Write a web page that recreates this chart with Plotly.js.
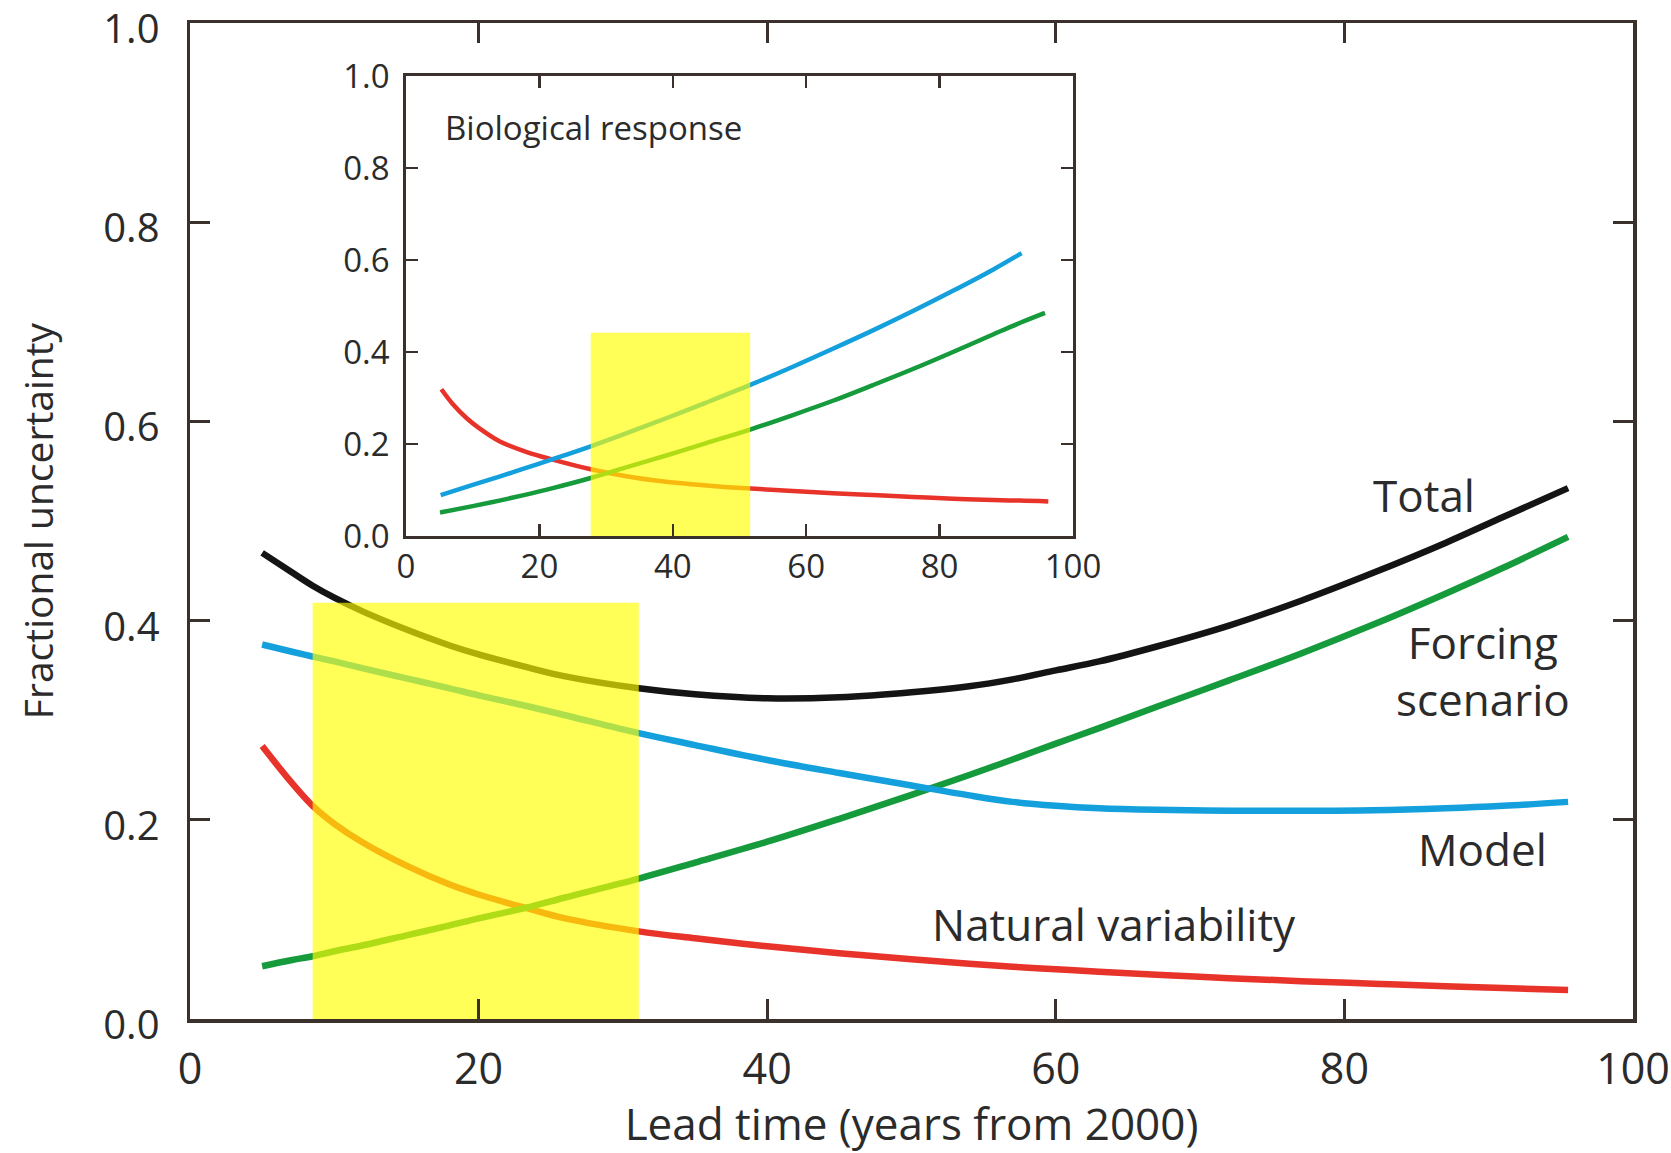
<!DOCTYPE html>
<html>
<head>
<meta charset="utf-8">
<script src="https://cdn.plot.ly/plotly-3.0.1.min.js"></script>
<style>
  html, body { margin: 0; padding: 0; background: #ffffff; }
  #chart { width: 1671px; height: 1153px; }
</style>
</head>
<body>
<div id="chart"></div>
<script>
// ---------- Main panel data (lead time in years from 2000) ----------
const leadTime = [5, 7, 8.5, 10, 12, 15, 18, 20, 23.4, 26, 31.1, 35, 40, 45, 50, 54, 57, 60, 63, 67, 72, 77, 82, 87, 91, 95.5];
const totalUnc = [0.468, 0.449, 0.435, 0.423, 0.409, 0.391, 0.375, 0.366, 0.353, 0.344, 0.332, 0.326, 0.322, 0.323, 0.328, 0.334, 0.341, 0.350, 0.359, 0.374, 0.395, 0.420, 0.448, 0.478, 0.504, 0.533];
const modelUnc = [0.376, 0.369, 0.364, 0.359, 0.352, 0.342, 0.332, 0.325, 0.314, 0.305, 0.287, 0.275, 0.260, 0.247, 0.2345, 0.2245, 0.218, 0.214, 0.2115, 0.210, 0.2092, 0.209, 0.2095, 0.2115, 0.214, 0.218];
const forcingUnc = [0.053, 0.059, 0.063, 0.068, 0.074, 0.084, 0.094, 0.101, 0.112, 0.122, 0.141, 0.157, 0.178, 0.201, 0.225, 0.245, 0.2605, 0.2765, 0.292, 0.3135, 0.340, 0.367, 0.396, 0.427, 0.453, 0.484];
const naturalUnc = [0.274, 0.238, 0.214, 0.196, 0.177, 0.154, 0.135, 0.125, 0.111, 0.101, 0.088, 0.081, 0.073, 0.066, 0.060, 0.0555, 0.0525, 0.050, 0.0475, 0.0445, 0.041, 0.038, 0.0355, 0.033, 0.031, 0.029];

// highlighted window, main panel
const mainHighlightX = [8.5, 31.1];
const mainHighlightY = [0, 0.418];

// ---------- Inset: Biological response ----------
const bioModelX = [5.2, 10, 14, 18, 22, 27.7, 33, 39, 45, 51.7, 58, 64, 70, 76, 82, 88, 92.3];
const bioModel  = [0.089, 0.111, 0.129, 0.148, 0.167, 0.195, 0.223, 0.256, 0.290, 0.329, 0.368, 0.407, 0.447, 0.489, 0.533, 0.579, 0.615];
const bioForcingX = [5.1, 10, 14, 18, 22, 27.7, 33, 39, 45, 51.7, 58, 64, 70, 76, 82, 88, 92, 95.8];
const bioForcing  = [0.051, 0.065, 0.077, 0.090, 0.104, 0.126, 0.149, 0.175, 0.202, 0.232, 0.263, 0.294, 0.328, 0.363, 0.400, 0.438, 0.463, 0.485];
const bioNaturalX = [5.3, 7, 9.1, 11, 14, 18, 22, 27.7, 33, 39, 45, 51.7, 58, 64, 70, 76, 82, 88, 92, 96.3];
const bioNatural  = [0.319, 0.287, 0.256, 0.234, 0.206, 0.183, 0.166, 0.145, 0.130, 0.118, 0.110, 0.103, 0.098, 0.093, 0.089, 0.085, 0.081, 0.078, 0.077, 0.075];

const insetHighlightX = [27.7, 51.6];
const insetHighlightY = [0, 0.442];

// ---------- Tick labels ----------
const xTicks = [0, 20, 40, 60, 80, 100];
const yTicks = [0, 0.2, 0.4, 0.6, 0.8, 1.0];

// ---------- Series labels ----------
const labelText = ['Total', 'Forcing<br>scenario', 'Model', 'Natural variability'];
const labelX = [85.5, 89.6, 89.6, 64.0];
const labelY = [0.526, 0.350, 0.171, 0.095];

// ---------- Styles ----------
const FONT = '"Open Sans", "Noto Sans", sans-serif';
const TXT = '#2b2b2b';
const AXC = '#3a302c';
const C_TOTAL = '#141414';
const C_MODEL = '#13a0dc';
const C_FORCE = '#159a3c';
const C_NAT = '#e8332a';
const C_HL = 'rgba(255,255,0,0.66)';

function line(x, y, color, w, xa, ya, name) {
  return { x: x, y: y, type: 'scatter', mode: 'lines', name: name,
           line: { color: color, width: w, shape: 'spline', smoothing: 1 },
           xaxis: xa, yaxis: ya, hoverinfo: 'skip' };
}
function rect(xr, yr, xa, ya) {
  return { x: [xr[0], xr[1], xr[1], xr[0], xr[0]], y: [yr[0], yr[0], yr[1], yr[1], yr[0]],
           type: 'scatter', mode: 'lines', fill: 'toself', fillcolor: C_HL,
           line: { width: 0, color: 'rgba(0,0,0,0)' }, xaxis: xa, yaxis: ya, hoverinfo: 'skip' };
}

const traces = [
  line(leadTime, naturalUnc, C_NAT, 6.5, 'x', 'y', 'Natural variability'),
  line(leadTime, forcingUnc, C_FORCE, 6.5, 'x', 'y', 'Forcing scenario'),
  line(leadTime, modelUnc, C_MODEL, 6.5, 'x', 'y', 'Model'),
  line(leadTime, totalUnc, C_TOTAL, 6.5, 'x', 'y', 'Total'),
  rect(mainHighlightX, mainHighlightY, 'x', 'y'),
  line(bioNaturalX, bioNatural, C_NAT, 4.5, 'x2', 'y2', 'Natural variability (bio)'),
  line(bioForcingX, bioForcing, C_FORCE, 4.5, 'x2', 'y2', 'Forcing scenario (bio)'),
  line(bioModelX, bioModel, C_MODEL, 4.5, 'x2', 'y2', 'Model (bio)'),
  rect(insetHighlightX, insetHighlightY, 'x2', 'y2')
];

const W = 1671, H = 1153;
function axisCommon(extra) {
  return Object.assign({
    showgrid: false, zeroline: false, showline: true, linecolor: AXC,
    mirror: 'ticks', ticks: 'inside', tickcolor: AXC, fixedrange: true,
    ticklabeloverflow: 'allow'
  }, extra);
}

const annotations = labelText.map((t, i) => ({
  text: t, x: labelX[i], y: labelY[i], xref: 'x', yref: 'y', showarrow: false,
  xanchor: 'center', yanchor: 'middle', align: 'center',
  font: { family: FONT, size: 44, color: TXT }
}));
annotations.push({
  text: 'Biological response', x: 5.5, y: 0.889, xref: 'x2', yref: 'y2', showarrow: false,
  xanchor: 'left', yanchor: 'middle', font: { family: FONT, size: 33, color: TXT }
});

const layout = {
  width: W, height: H,
  margin: { l: 0, r: 0, t: 0, b: 0 },
  paper_bgcolor: '#ffffff', plot_bgcolor: '#ffffff',
  showlegend: false,
  font: { family: FONT, color: TXT },
  xaxis: axisCommon({
    domain: [190 / W, 1633 / W], range: [0, 100], anchor: 'y',
    tickvals: xTicks, ticktext: xTicks.map(String),
    ticklen: 20, tickwidth: 3, linewidth: 3.5,
    tickfont: { family: FONT, size: 43, color: TXT }, ticklabelstandoff: 10,
    title: { text: 'Lead time (years from 2000)', font: { family: FONT, size: 44, color: TXT }, standoff: 17 }
  }),
  yaxis: axisCommon({
    domain: [(H - 1019) / H, (H - 23) / H], range: [0, 1], anchor: 'x',
    tickvals: yTicks, ticktext: yTicks.map(v => v.toFixed(1)),
    ticklen: 20, tickwidth: 3, linewidth: 3.5,
    tickfont: { family: FONT, size: 40, color: TXT }, ticklabelstandoff: 19, ticklabelshift: 6,
    title: { text: 'Fractional uncertainty', font: { family: FONT, size: 39, color: TXT }, standoff: 38 }
  }),
  xaxis2: axisCommon({
    domain: [406 / W, 1073 / W], range: [0, 100], anchor: 'y2',
    tickvals: xTicks, ticktext: xTicks.map(String),
    ticklen: 12, tickwidth: 2.5, linewidth: 2.8,
    tickfont: { family: FONT, size: 33, color: TXT }, ticklabelstandoff: 0
  }),
  yaxis2: axisCommon({
    domain: [(H - 536) / H, (H - 76) / H], range: [0, 1], anchor: 'x2',
    tickvals: yTicks, ticktext: yTicks.map(v => v.toFixed(1)),
    ticklen: 12, tickwidth: 2.5, linewidth: 2.8,
    tickfont: { family: FONT, size: 33, color: TXT }, ticklabelstandoff: 7
  }),
  annotations: annotations
};

Plotly.newPlot('chart', traces, layout, { staticPlot: true, displayModeBar: false });
</script>
</body>
</html>
